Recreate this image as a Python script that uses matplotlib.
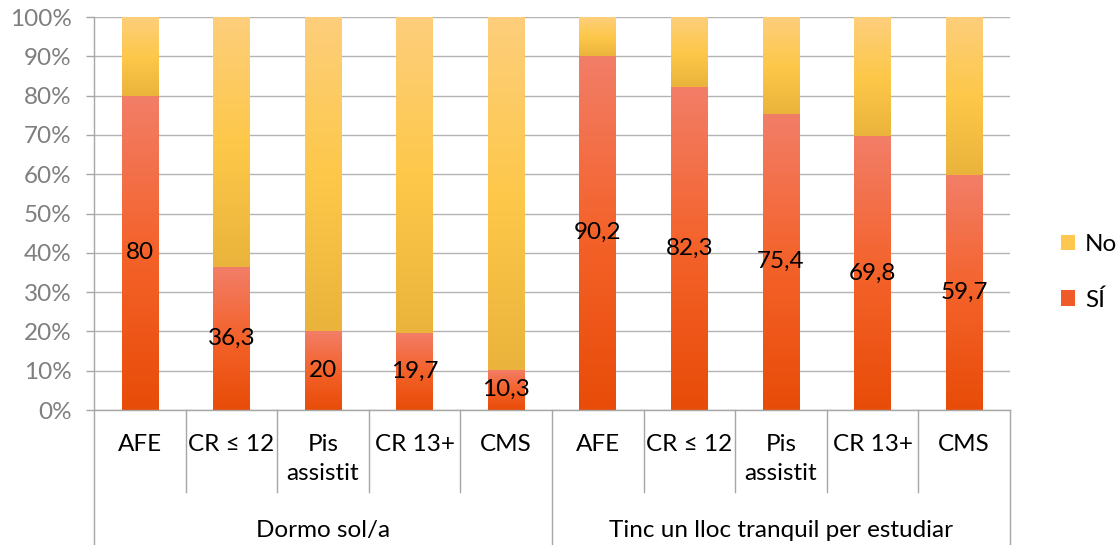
import numpy as np
import matplotlib.pyplot as plt
from matplotlib.colors import LinearSegmentedColormap
from matplotlib.patches import Patch
from matplotlib.transforms import blended_transform_factory

plt.rcParams['font.family'] = ['Lato', 'DejaVu Sans']

# data
groups = ['Dormo sol/a', 'Tinc un lloc tranquil per estudiar']
categories = ['AFE', 'CR ≤ 12', 'Pis\nassistit', 'CR 13+', 'CMS']
si_values = [80, 36.3, 20, 19.7, 10.3, 90.2, 82.3, 75.4, 69.8, 59.7]
si_labels = ['80', '36,3', '20', '19,7', '10,3', '90,2', '82,3', '75,4', '69,8', '59,7']
no_values = [100 - v for v in si_values]

si_cmap = LinearSegmentedColormap.from_list('si', ['#E84C08', '#F4622A', '#F27E68'])
no_cmap = LinearSegmentedColormap.from_list('no', ['#EAB43C', '#FEC84A', '#FDCE7C'])

FS = 17.5

fig = plt.figure(figsize=(11.18, 5.45), dpi=100)
ax = fig.add_axes([0.0841, 0.2477, 0.8193, 0.7211])

n = len(si_values)
x = np.arange(n)
width = 0.40
grad = np.linspace(0, 1, 256).reshape(-1, 1)


def gradient_bars(bars, cmap):
    # fill each bar with a vertical gradient clipped to the bar shape
    for b in bars:
        x0, y0 = b.get_x(), b.get_y()
        w, h = b.get_width(), b.get_height()
        im = ax.imshow(grad, cmap=cmap, origin='lower', aspect='auto',
                       extent=(x0, x0 + w, y0, y0 + h), zorder=2)
        im.set_clip_path(b)


si_bars = ax.bar(x, si_values, width, facecolor='none', edgecolor='none', zorder=2)
no_bars = ax.bar(x, no_values, width, bottom=si_values, facecolor='none',
                 edgecolor='none', zorder=2)
gradient_bars(si_bars, si_cmap)
gradient_bars(no_bars, no_cmap)

for xi, v, lab in zip(x, si_values, si_labels):
    ax.text(xi, v / 2, lab, ha='center', va='center', fontsize=FS, color='black', zorder=3)

ax.set_xlim(-0.5, n - 0.5)
ax.set_ylim(0, 100)
ax.set_yticks(np.arange(0, 101, 10))
ax.set_yticklabels([f'{t}%' for t in range(0, 101, 10)])
ax.tick_params(axis='y', labelsize=FS, labelcolor='#7F7F7F', color='#A6A6A6',
               length=6, width=1, pad=10)
ax.yaxis.grid(True, color='#B3B3B3', linewidth=1)
ax.set_axisbelow(True)
for side in ['top', 'right']:
    ax.spines[side].set_visible(False)
for side in ['left', 'bottom']:
    ax.spines[side].set_color('#A6A6A6')
    ax.spines[side].set_linewidth(1)

# multi-level category axis
ax.set_xticks([])
trans = blended_transform_factory(ax.transData, ax.transAxes)
ax_h = 0.7211 * 5.45  # axes height in inches
px = 1 / (ax_h * 100)  # one pixel in axes fraction
labels = categories * len(groups)
for xi, lab in zip(x, labels):
    ax.text(xi, -24 * px, lab, transform=trans, ha='center', va='top',
            fontsize=FS, linespacing=1.45, color='black')

for k in range(n + 1):
    edge = k - 0.5
    if k % len(categories) == 0:
        y_end = -135 * px
    else:
        y_end = -82 * px
    ax.plot([edge, edge], [0, y_end], transform=trans, color='#A6A6A6',
            linewidth=1, clip_on=False)

for g, name in enumerate(groups):
    center = g * len(categories) + (len(categories) - 1) / 2
    ax.text(center, -120 * px, name, transform=trans, ha='center', va='center',
            fontsize=FS, color='black')

handles = [Patch(facecolor='#FEC850', label='No'),
           Patch(facecolor='#F05A28', label='SÍ')]
fig.legend(handles=handles, loc='center left', bbox_to_anchor=(0.940, 0.500),
           frameon=False, fontsize=FS, handlelength=0.6, handleheight=0.6,
           handletextpad=0.4, labelspacing=1.4, borderaxespad=0)

fig.savefig('out.png', dpi=100)
